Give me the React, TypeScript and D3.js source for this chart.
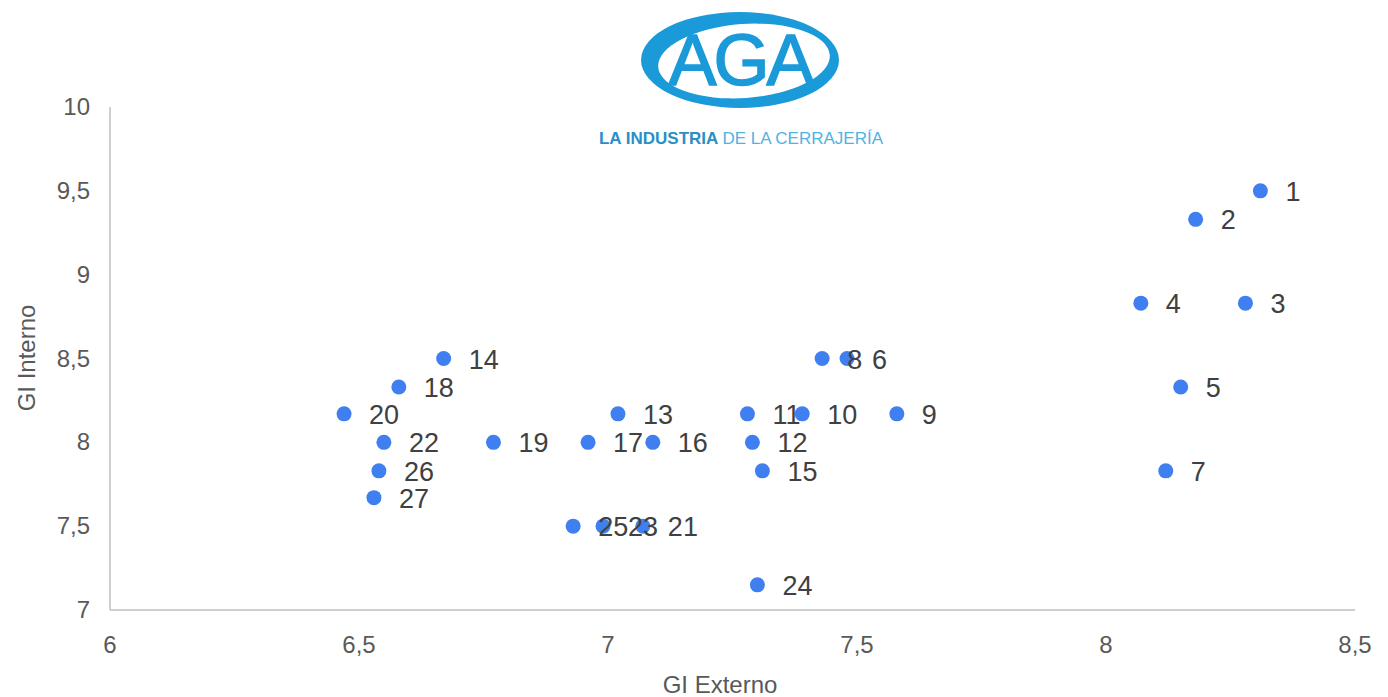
import { useEffect, useRef } from 'react'
import * as d3 from 'd3'

const labels = ['1', '2', '3', '4', '5', '6', '7', '8', '9', '10', '11', '12', '13', '14', '15', '16', '17', '18', '19', '20', '21', '22', '23', '24', '25', '26', '27']
const giExterno = [8.31, 8.18, 8.28, 8.07, 8.15, 7.48, 8.12, 7.43, 7.58, 7.39, 7.28, 7.29, 7.02, 6.67, 7.31, 7.09, 6.96, 6.58, 6.77, 6.47, 7.07, 6.55, 6.99, 7.3, 6.93, 6.54, 6.53]
const giInterno = [9.5, 9.33, 8.83, 8.83, 8.33, 8.5, 7.83, 8.5, 8.17, 8.17, 8.17, 8, 8.17, 8.5, 7.83, 8, 8, 8.33, 8, 8.17, 7.5, 8, 7.5, 7.15, 7.5, 7.83, 7.67]
const xTicks = [6, 6.5, 7, 7.5, 8, 8.5]
const yTicks = [7, 7.5, 8, 8.5, 9, 9.5, 10]

const W = 1388
const H = 697
const FONT = '"Liberation Sans", Arial, sans-serif'
const fmt = (v: number) => String(v).replace('.', ',')

export default function App() {
  const ref = useRef<SVGSVGElement>(null)

  useEffect(() => {
    const svg = d3.select(ref.current)
    svg.selectAll('*').remove()

    const x = d3.scaleLinear().domain([6, 8.5]).range([110, 1355])
    const y = d3.scaleLinear().domain([7, 10]).range([610, 107])

    // logo
    const logo = svg.append('g')
    logo.append('ellipse').attr('cx', 740).attr('cy', 60).attr('rx', 99).attr('ry', 48).attr('fill', '#1a9ad8')
    logo.append('ellipse').attr('cx', 744).attr('cy', 61).attr('rx', 86).attr('ry', 37).attr('fill', '#fff')
      .attr('transform', 'rotate(-4 744 61)')
    logo.append('text').attr('x', 740).attr('y', 85).attr('text-anchor', 'middle')
      .attr('font-family', FONT).attr('font-size', 72).attr('fill', '#1a9ad8')
      .attr('stroke', '#1a9ad8').attr('stroke-width', 1.5)
      .attr('letter-spacing', -3).text('AGA')
    const tag = logo.append('text').attr('x', 741).attr('y', 144).attr('text-anchor', 'middle')
      .attr('font-family', FONT).attr('font-size', 17)
    tag.append('tspan').attr('font-weight', 700).attr('fill', '#2a8fc4').text('LA INDUSTRIA ')
    tag.append('tspan').attr('fill', '#4fb3e2').text('DE LA CERRAJERÍA')

    // axes
    svg.append('line').attr('x1', 110).attr('x2', 110).attr('y1', 107).attr('y2', 610)
      .attr('stroke', '#bfbfbf').attr('stroke-width', 1.5)
    svg.append('line').attr('x1', 110).attr('x2', 1355).attr('y1', 610).attr('y2', 610)
      .attr('stroke', '#bfbfbf').attr('stroke-width', 1.5)

    svg.append('g').selectAll('text').data(yTicks).enter().append('text')
      .attr('x', 90).attr('y', (d) => y(d) + 8).attr('text-anchor', 'end')
      .attr('font-family', FONT).attr('font-size', 24).attr('fill', '#595959')
      .text((d) => fmt(d))

    svg.append('g').selectAll('text').data(xTicks).enter().append('text')
      .attr('x', (d) => x(d)).attr('y', 653).attr('text-anchor', 'middle')
      .attr('font-family', FONT).attr('font-size', 24).attr('fill', '#595959')
      .text((d) => fmt(d))

    svg.append('text').attr('x', 720).attr('y', 693).attr('text-anchor', 'middle')
      .attr('font-family', FONT).attr('font-size', 24).attr('fill', '#595959').text('GI Externo')
    svg.append('text').attr('transform', 'translate(35,358) rotate(-90)').attr('text-anchor', 'middle')
      .attr('font-family', FONT).attr('font-size', 24).attr('fill', '#595959').text('GI Interno')

    const data = labels.map((l, i) => ({ label: l, x: giExterno[i], y: giInterno[i] }))

    svg.append('g').selectAll('circle').data(data).enter().append('circle')
      .attr('cx', (d) => x(d.x)).attr('cy', (d) => y(d.y)).attr('r', 7.5).attr('fill', '#3f7ff0')

    svg.append('g').selectAll('text').data(data).enter().append('text')
      .attr('x', (d) => x(d.x) + 25).attr('y', (d) => y(d.y) + 10)
      .attr('font-family', FONT).attr('font-size', 27).attr('fill', '#404040')
      .text((d) => d.label)
  }, [])

  return <svg ref={ref} width={W} height={H} style={{ display: 'block', position: 'absolute', left: 0, top: 0, background: '#fff' }} />
}
